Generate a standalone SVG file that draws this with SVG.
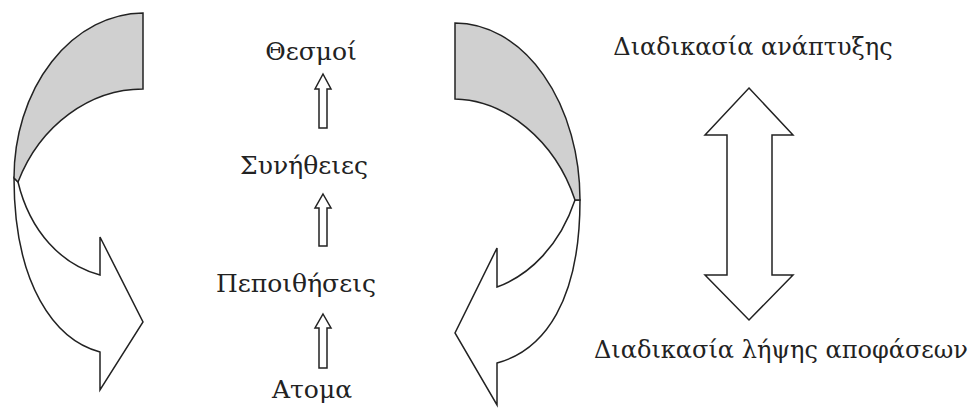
<svg xmlns="http://www.w3.org/2000/svg" width="978" height="412" viewBox="0 0 978 412">
<style>
.s{stroke:#222;stroke-width:1.5;stroke-linejoin:miter;fill:#fff}
.g{fill:#d0d0d0}
.t{font-family:'DejaVu Serif',serif;font-size:25px;fill:#222}
.r{font-size:24px}
</style>
<rect width="978" height="412" fill="#fff"/>
<g id="left-curved-arrow">
<path class="s" d="M18,182 C30,232 62,265 100,275 L100,237 L143,322 L100,390 L100,352 C55,340 14,285 14,178 Z"/>
<path class="s g" d="M143,13 L143,89 C90,89 40,125 18,182 L14,178 A130,165 0 0 1 143,13 Z"/>
</g>
<g id="right-curved-arrow">
<path class="s" d="M575,200 C560,245 530,275 497,287 L497,248 L455,333 L497,405 L497,363 C545,350 580,300 580,200 Z"/>
<path class="s g" d="M455,23 L455,99 C505,100 555,140 575,200 L580,200 A125,177 0 0 0 455,23 Z"/>
</g>
<g id="n-thesmoi"><text class="t" x="311" y="60" text-anchor="middle">Θεσμοί</text></g>
<g id="n-synitheies"><text class="t" x="304" y="174" text-anchor="middle">Συνήθειες</text></g>
<g id="n-pepoithiseis"><text class="t" x="296" y="292" text-anchor="middle">Πεποιθήσεις</text></g>
<g id="n-atoma"><text class="t" x="312" y="398" text-anchor="middle">Ατομα</text></g>
<g id="n-anaptyxi"><text class="t r" x="753" y="55" text-anchor="middle">Διαδικασία ανάπτυξης</text></g>
<g id="n-apofaseis"><text class="t r" x="781" y="358" text-anchor="middle">Διαδικασία λήψης αποφάσεων</text></g>
<g id="connectors">
<path class="s" d="M323,74 L331,89 L327,89 L327,128 L319,128 L319,89 L315,89 Z"/>
<path class="s" d="M323,194 L331,208 L327,208 L327,246 L319,246 L319,208 L315,208 Z"/>
<path class="s" d="M323,314 L331,328 L327,328 L327,368 L319,368 L319,328 L315,328 Z"/>
<path class="s" d="M749,88 L793,135 L772,135 L772,275 L793,275 L749,320 L705,275 L727,275 L727,135 L705,135 Z"/>
</g>
</svg>
